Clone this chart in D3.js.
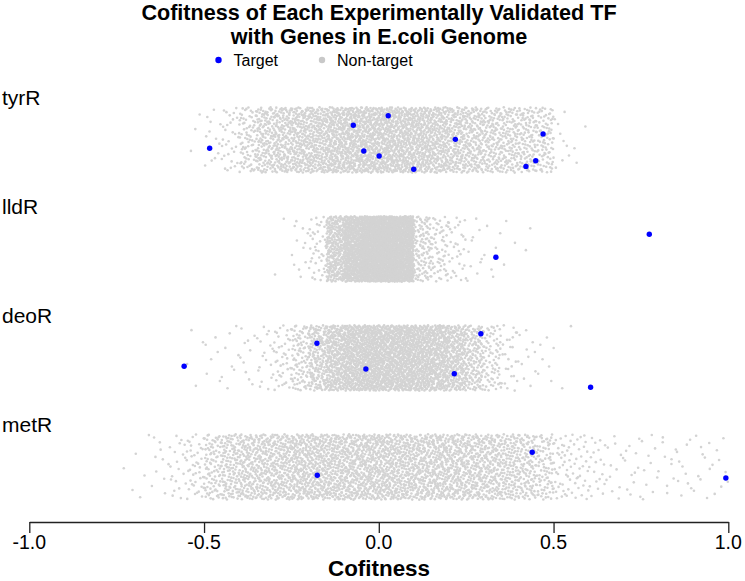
<!DOCTYPE html>
<html>
<head>
<meta charset="utf-8">
<script src="https://d3js.org/d3.v7.min.js"></script>
<style>
    body { margin: 0; background: #fff; }
    text { font-family: "Liberation Sans", Arial, Helvetica, sans-serif; fill: #000; }
</style>
</head>
<body>
<div id="chart"></div>
<script>

/*
 *** Data
 */
var tfNames = ["tyrR", "lldR", "deoR", "metR"];

// validated targets: cofitness value and the vertical jitter (in group units)
var tyrRTargets = [-0.484, -0.073, 0.027, -0.043, 0.001, 0.100, 0.219, 0.470, 0.449, 0.421];
var tyrRJitter  = [0.076, -0.135, -0.223, 0.101, 0.147, 0.269, -0.006, -0.055, 0.190, 0.242];
var lldRTargets = [0.774, 0.335];
var lldRJitter  = [-0.135, 0.076];
var deoRTargets = [-0.557, -0.177, -0.037, 0.292, 0.216, 0.606];
var deoRJitter  = [0.076, -0.135, 0.101, -0.223, 0.144, 0.269];
var metRTargets = [-0.176, 0.439, 0.993];
var metRJitter  = [0.076, -0.135, 0.101];

// non-targets are too many to read one by one: counts per 0.05 cofitness bin,
// estimated from the density of the grey cloud. xxStart = first bin's left edge
var binWidth = 0.05;
var tyrRStart = -0.55;
var tyrRCounts = [3, 12, 30, 80, 140, 160, 180, 200, 220, 230, 240, 240, 230, 210, 190, 170, 150, 130, 120, 110, 90, 10, 3];
var lldRStart = -0.30;
var lldRCounts = [2, 12, 40, 250, 480, 650, 680, 560, 110, 60, 30, 10, 6, 3, 2];
var deoRStart = -0.55;
var deoRCounts = [4, 6, 8, 10, 18, 40, 90, 170, 260, 310, 330, 330, 320, 300, 270, 210, 140, 70, 25, 10, 6, 3];
var metRStart = -0.75;
var metRCounts = [2, 4, 10, 20, 40, 90, 125, 145, 155, 165, 175, 180, 185, 185, 185, 185, 180, 175, 170, 165, 155, 145, 135, 115, 85, 40, 30, 20, 12, 12, 10, 10, 10, 10, 8];

var jitterAmount = 0.3;

var xTicks = [-1.0, -0.5, 0.0, 0.5, 1.0];
var titleLines = ["Cofitness of Each Experimentally Validated TF", "with Genes in E.coli Genome"];
var legendLabels = ["Target", "Non-target"];
var xTitle = "Cofitness";

var targetTable = [
    {values: tyrRTargets, jitter: tyrRJitter},
    {values: lldRTargets, jitter: lldRJitter},
    {values: deoRTargets, jitter: deoRJitter},
    {values: metRTargets, jitter: metRJitter}
];
var binTable = [
    {start: tyrRStart, counts: tyrRCounts},
    {start: lldRStart, counts: lldRCounts},
    {start: deoRStart, counts: deoRCounts},
    {start: metRStart, counts: metRCounts}
];


/*
 *** Layout
 */
var width = 745, height = 581;

var svg = d3.select("#chart").append("svg")
    .attr("width", width)
    .attr("height", height);

var x = d3.scaleLinear().domain([-1, 1]).range([29.3, 728.3]);
var y = d3.scaleLinear().domain([0, 3]).range([140, 467]);

function addText(sel, str, px, py, size, weight, anchor){
    return sel.append("text")
        .attr("x", px)
        .attr("y", py)
        .attr("font-size", size + "px")
        .attr("font-weight", weight)
        .attr("text-anchor", anchor)
        .text(str);
}


/*
 *** Halton sequence, used to spread the binned grey points evenly
 */
function halton(i, b){
    var f = 1, r = 0;
    while(i > 0){
        f = f / b;
        r = r + f * (i % b);
        i = Math.floor(i / b);
    }
    return r;
}

function buildCloud(){
    var pts = [];
    binTable.forEach(function(tf, g){
        var n = 1 + g * 7;
        tf.counts.forEach(function(c, j){
            var left = tf.start + j * binWidth;
            for(var k = 0; k < c; k++){
                pts.push({
                    v: left + binWidth * halton(n, 2),
                    j: g + jitterAmount * (2 * halton(n, 3) - 1)
                });
                n++;
            }
        });
    });
    return pts;
}


/*
 *** Title and legend
 */
addText(svg, titleLines[0], 379, 20, 21.6, "bold", "middle");
addText(svg, titleLines[1], 379, 44, 21.6, "bold", "middle");

var legendX = [218.5, 322];
var legendColor = ["#0000ff", "#c8c8c8"];
legendLabels.forEach(function(lbl, i){
    svg.append("circle")
        .attr("cx", legendX[i])
        .attr("cy", 60)
        .attr("r", 3.2)
        .attr("fill", legendColor[i]);
    addText(svg, lbl, legendX[i] + 15, 65.5, 16, "normal", "start");
});


/*
 *** Rows
 */
tfNames.forEach(function(name, g){
    addText(svg, name, 2, y(g) - 35, 21, "normal", "start");
});

svg.append("g").selectAll(".nonTarget")
    .data(buildCloud())
    .enter().append("circle")
    .attr("class", "nonTarget")
    .attr("cx", function(d){ return x(d.v); })
    .attr("cy", function(d){ return y(d.j); })
    .attr("r", 1.3)
    .attr("fill", "#d3d3d3");

var targets = [];
targetTable.forEach(function(tf, g){
    tf.values.forEach(function(v, i){
        targets.push({v: v, j: g + tf.jitter[i]});
    });
});

svg.append("g").selectAll(".target")
    .data(targets)
    .enter().append("circle")
    .attr("class", "target")
    .attr("cx", function(d){ return x(d.v); })
    .attr("cy", function(d){ return y(d.j); })
    .attr("r", 2.7)
    .attr("fill", "#0000ff");


/*
 *** X axis
 */
var axisY = 522;
var xAxis = svg.append("g")
    .attr("transform", "translate(0," + axisY + ")")
    .call(d3.axisBottom(x).tickValues(xTicks).tickSize(11).tickSizeOuter(0).tickFormat(d3.format(".1f")));

xAxis.select(".domain").attr("stroke", "#222").attr("stroke-width", 1.6);
xAxis.selectAll(".tick line").attr("stroke", "#222").attr("stroke-width", 1.3);
xAxis.selectAll(".tick text").remove();

xTicks.forEach(function(t){
    addText(svg, d3.format(".1f")(t).replace("−", "-"), x(t), 549, 19.5, "normal", "middle");
});

addText(svg, xTitle, 379, 576, 22.4, "bold", "middle");

</script>
</body>
</html>
